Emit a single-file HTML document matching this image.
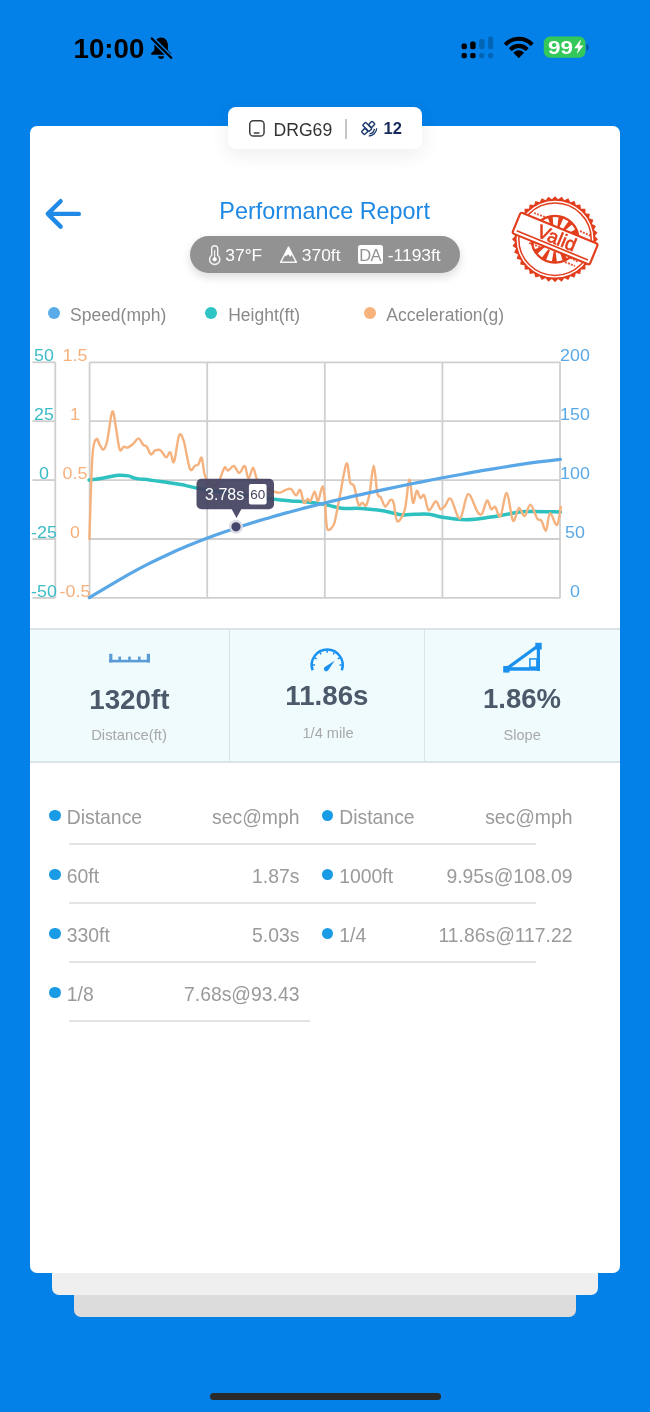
<!DOCTYPE html>
<html><head><meta charset="utf-8">
<style>
html,body{margin:0;padding:0;}
body{width:650px;height:1412px;position:relative;overflow:hidden;background:#0381e8;font-family:"Liberation Sans",sans-serif;}
.a{position:absolute;white-space:pre;line-height:1;transform:translateZ(0);}
svg{position:absolute;left:0;top:0;overflow:visible;transform:translateZ(0);}
</style></head><body>
<div style="position:absolute;left:74px;top:1200px;width:502px;height:117px;background:#dcdcdc;border-radius:7px;"></div>
<div style="position:absolute;left:52px;top:1200px;width:546px;height:95px;background:#efefef;border-radius:7px;"></div>
<div style="position:absolute;left:30px;top:126px;width:590px;height:1147px;background:#fff;border-radius:7px;"></div>
<div class="a" style="left:73.5px;top:34.79px;font-size:27.7px;font-weight:700;color:#000;">10:00</div>
<div style="position:absolute;left:228px;top:107px;width:194px;height:41.8px;background:#fff;border-radius:8px;box-shadow:0 6px 20px rgba(20,20,60,0.07);"></div>
<div class="a" style="left:273.5px;top:121.80px;font-size:17.6px;color:#333;">DRG69</div>
<div class="a" style="left:383.5px;top:120.45px;font-size:16.5px;font-weight:700;color:#16295a;">12</div>
<div style="position:absolute;left:345px;top:118.6px;width:1.5px;height:20.2px;background:#c4c4c4;"></div>
<div class="a" style="left:219.3px;top:200.25px;font-size:23.4px;color:#1e88e5;">Performance Report</div>
<div style="position:absolute;left:190px;top:236px;width:270px;height:37px;background:#929292;border-radius:18.5px;box-shadow:0 4px 10px rgba(0,0,0,0.14);"></div>
<div class="a" style="left:225.3px;top:246.73px;font-size:17.4px;color:#fff;">37°F</div>
<div class="a" style="left:301.8px;top:246.73px;font-size:17.4px;color:#fff;">370ft</div>
<div style="position:absolute;left:357.6px;top:245px;width:25.4px;height:19.2px;background:#fff;border-radius:2.5px;"></div>
<div class="a" style="left:359.2px;top:246.85px;font-size:16.5px;color:#929292;letter-spacing:-0.6px;">DA</div>
<div class="a" style="left:387.8px;top:246.73px;font-size:17.4px;color:#fff;">-1193ft</div>
<div style="position:absolute;left:47.5px;top:307px;width:12px;height:12px;background:#5aace8;border-radius:50%;"></div>
<div class="a" style="left:70px;top:306.92px;font-size:17.5px;color:#8a8a8a;">Speed(mph)</div>
<div style="position:absolute;left:205px;top:307px;width:12px;height:12px;background:#2ec4c4;border-radius:50%;"></div>
<div class="a" style="left:228.2px;top:306.92px;font-size:17.5px;color:#8a8a8a;">Height(ft)</div>
<div style="position:absolute;left:363.5px;top:307px;width:12px;height:12px;background:#f8b27c;border-radius:50%;"></div>
<div class="a" style="left:386.3px;top:306.92px;font-size:17.5px;color:#8a8a8a;">Acceleration(g)</div>
<svg width="650" height="650" viewBox="0 0 650 650">
<g stroke="#cfcfcf" stroke-width="1.8" fill="none"><line x1="89.6" y1="362.3" x2="89.6" y2="597.9"/><line x1="207.2" y1="362.3" x2="207.2" y2="597.9"/><line x1="324.8" y1="362.3" x2="324.8" y2="597.9"/><line x1="442.4" y1="362.3" x2="442.4" y2="597.9"/><line x1="560" y1="362.3" x2="560" y2="597.9"/><line x1="89.6" y1="362.3" x2="560" y2="362.3"/><line x1="89.6" y1="421.2" x2="560" y2="421.2"/><line x1="89.6" y1="480.1" x2="560" y2="480.1"/><line x1="89.6" y1="539.0" x2="560" y2="539.0"/><line x1="89.6" y1="597.9" x2="560" y2="597.9"/><line x1="55.3" y1="362.3" x2="55.3" y2="597.9"/><line x1="32.4" y1="362.3" x2="55.3" y2="362.3"/><line x1="32.4" y1="421.2" x2="55.3" y2="421.2"/><line x1="32.4" y1="480.1" x2="55.3" y2="480.1"/><line x1="32.4" y1="539.0" x2="55.3" y2="539.0"/><line x1="32.4" y1="597.9" x2="55.3" y2="597.9"/></g>
<path d="M89.1,480.0 C91.5,479.7 98.7,478.8 103.5,478.0 C108.3,477.2 114.0,475.7 118.2,475.3 C122.4,474.9 125.5,475.4 128.4,475.9 C131.3,476.4 132.3,477.7 135.8,478.4 C139.3,479.1 145.2,479.4 149.6,480.0 C154.0,480.6 157.3,481.1 162.5,481.8 C167.7,482.6 175.2,483.4 181.0,484.5 C186.8,485.6 188.6,486.6 197.6,488.2 C206.6,489.8 222.5,492.2 235.0,494.0 C247.5,495.8 263.2,497.8 272.5,499.0 C281.8,500.2 285.6,500.5 291.0,501.0 C296.4,501.5 299.3,501.2 305.0,501.8 C310.7,502.4 319.1,503.5 325.3,504.6 C331.5,505.7 336.8,507.7 342.0,508.3 C347.2,508.9 352.1,508.2 356.7,508.3 C361.3,508.4 365.0,508.8 369.6,509.2 C374.2,509.6 379.2,510.1 384.4,511.0 C389.6,511.9 395.9,514.2 401.0,514.8 C406.1,515.3 410.4,514.4 415.0,514.3 C419.6,514.2 424.2,513.8 428.8,514.3 C433.4,514.8 437.3,516.4 442.7,517.3 C448.1,518.2 455.8,519.3 461.2,519.6 C466.6,519.9 470.4,519.6 475.0,519.2 C479.6,518.8 483.4,518.1 488.8,517.3 C494.2,516.5 501.1,515.3 507.3,514.3 C513.5,513.3 516.9,511.9 525.8,511.5 C534.6,511.1 554.6,511.9 560.4,512.0" fill="none" stroke="#2fc0c0" stroke-width="3.5" stroke-linejoin="round" stroke-linecap="round"/>
<path d="M89.4,539.0 C89.9,525.2 91.2,472.7 92.4,456.0 C93.6,439.3 95.2,440.8 96.4,439.0 C97.6,437.2 98.6,443.2 99.8,445.0 C101.0,446.8 102.3,450.2 103.5,449.5 C104.7,448.8 105.7,447.3 107.2,441.0 C108.7,434.7 110.8,413.8 112.3,411.6 C113.8,409.4 114.8,421.7 116.0,428.0 C117.2,434.3 118.4,446.4 119.7,449.5 C121.0,452.6 122.5,447.0 123.8,446.7 C125.1,446.4 126.0,448.1 127.5,447.6 C129.0,447.2 131.2,445.5 133.0,444.0 C134.8,442.5 136.8,438.3 138.5,438.4 C140.2,438.5 141.8,443.4 143.2,444.8 C144.6,446.2 145.5,445.1 146.8,446.7 C148.1,448.3 149.6,453.8 151.0,454.4 C152.4,455.0 153.6,451.1 155.2,450.4 C156.8,449.7 158.9,449.2 160.7,450.4 C162.5,451.6 164.6,457.1 166.2,457.4 C167.8,457.7 169.0,451.5 170.3,452.2 C171.6,452.9 172.5,464.6 174.0,461.8 C175.5,459.0 177.5,439.0 179.1,435.6 C180.7,432.2 182.0,435.7 183.8,441.2 C185.6,446.7 188.1,464.7 189.9,468.8 C191.7,472.9 193.4,466.8 194.8,466.0 C196.2,465.2 197.3,465.6 198.5,464.2 C199.7,462.8 200.7,456.1 201.7,457.8 C202.7,459.5 203.5,470.4 204.6,474.4 C205.7,478.4 206.4,480.1 208.0,482.0 C209.6,483.9 212.2,486.2 214.0,486.0 C215.8,485.8 217.2,484.1 219.0,481.0 C220.8,477.9 223.0,469.4 224.5,467.7 C226.0,465.9 226.4,470.8 228.0,470.5 C229.6,470.2 231.9,465.6 233.8,466.0 C235.7,466.4 237.5,473.0 239.3,473.0 C241.1,473.0 243.3,465.0 244.8,466.0 C246.3,467.0 247.1,478.5 248.5,478.8 C249.9,479.1 251.6,467.7 253.0,467.7 C254.4,467.7 255.3,475.8 256.8,478.8 C258.3,481.9 260.1,484.3 262.0,486.0 C263.9,487.7 265.9,488.1 268.0,489.0 C270.1,489.9 272.4,491.1 274.4,491.7 C276.4,492.3 278.1,492.9 280.0,492.6 C281.9,492.3 283.7,490.6 285.5,490.0 C287.3,489.4 289.2,488.1 291.0,489.0 C292.8,489.9 294.5,495.2 296.0,495.4 C297.5,495.6 298.9,488.8 300.2,490.0 C301.5,491.2 302.8,501.3 304.0,502.8 C305.2,504.3 306.5,499.3 307.6,499.0 C308.7,498.7 309.3,502.2 310.5,501.0 C311.7,499.8 313.4,491.7 314.6,491.7 C315.9,491.7 316.7,501.9 318.0,501.0 C319.3,500.1 321.3,486.5 322.5,486.5 C323.7,486.5 324.2,494.0 325.0,501.0 C325.8,508.0 325.8,524.6 327.2,528.6 C328.6,532.6 332.1,527.5 333.6,525.0 C335.1,522.5 335.3,518.7 336.4,513.8 C337.5,508.9 338.3,503.8 340.0,495.4 C341.7,487.0 344.8,465.8 346.5,463.6 C348.2,461.5 348.9,478.8 350.2,482.5 C351.4,486.2 352.6,482.3 354.0,486.0 C355.4,489.7 357.1,501.8 358.5,504.6 C359.9,507.4 360.9,502.7 362.2,502.8 C363.4,502.9 364.8,507.1 366.0,505.5 C367.2,503.9 368.3,500.1 369.6,493.5 C370.9,486.9 372.4,465.8 373.7,465.8 C375.0,465.8 376.2,488.3 377.4,493.5 C378.6,498.7 379.4,495.0 380.7,497.2 C382.0,499.4 383.7,506.0 385.3,506.5 C386.9,507.0 388.9,500.6 390.3,500.0 C391.7,499.4 392.4,499.3 393.6,502.8 C394.8,506.3 395.5,520.0 397.3,521.2 C399.1,522.4 402.7,516.9 404.7,510.0 C406.7,503.1 407.9,480.9 409.3,479.7 C410.7,478.5 411.8,500.9 413.0,502.8 C414.2,504.7 415.5,491.6 416.7,490.8 C417.9,490.0 419.1,497.2 420.4,498.0 C421.6,498.8 422.8,493.3 424.2,495.4 C425.6,497.5 426.9,509.4 428.8,510.4 C430.7,511.4 433.9,501.4 435.8,501.2 C437.7,501.0 438.9,508.4 440.4,509.2 C441.9,510.0 443.3,507.5 445.0,505.8 C446.7,504.1 448.3,496.7 450.8,498.8 C453.3,500.9 457.1,519.3 460.0,518.5 C462.9,517.7 465.1,495.4 468.0,494.2 C470.9,493.0 475.0,508.2 477.3,511.5 C479.6,514.8 480.4,515.6 482.0,513.8 C483.6,512.0 485.5,501.3 487.0,500.5 C488.5,499.7 489.8,508.1 491.2,509.2 C492.6,510.3 493.8,505.8 495.3,507.0 C496.8,508.2 498.5,518.5 500.4,516.2 C502.3,513.9 504.7,492.2 506.8,493.0 C508.9,493.8 511.0,518.3 513.0,520.8 C515.0,523.3 516.9,508.8 518.8,508.0 C520.7,507.2 522.7,516.8 524.6,516.2 C526.5,515.6 528.3,504.2 530.4,504.6 C532.5,505.0 535.4,515.8 537.3,518.5 C539.1,521.2 540.0,518.8 541.5,520.8 C543.0,522.8 544.6,531.7 546.0,530.5 C547.4,529.3 548.2,514.3 550.0,513.4 C551.8,512.5 555.2,526.1 557.0,525.0 C558.8,523.9 560.2,510.0 560.8,507.0" fill="none" stroke="#f6b27e" stroke-width="2.4" stroke-linejoin="round" stroke-linecap="round"/>
<path d="M89.3,597.6 C92.5,595.7 102.1,590.0 108.6,586.2 C115.1,582.4 121.8,578.3 128.3,574.6 C134.9,570.9 141.4,567.4 147.9,564.1 C154.4,560.8 161.1,557.7 167.6,554.7 C174.1,551.7 180.7,548.8 187.2,546.1 C193.7,543.4 200.2,540.8 206.8,538.3 C213.4,535.8 219.9,533.5 226.5,531.2 C233.1,528.9 239.5,526.8 246.1,524.7 C252.7,522.6 259.2,520.6 265.8,518.7 C272.4,516.8 278.8,514.9 285.4,513.1 C291.9,511.3 298.6,509.6 305.1,507.9 C311.7,506.2 318.2,504.6 324.7,503.0 C331.2,501.4 337.8,499.8 344.3,498.3 C350.9,496.8 357.4,495.3 364.0,493.9 C370.6,492.4 377.1,491.0 383.6,489.6 C390.2,488.2 396.8,486.8 403.3,485.5 C409.9,484.2 416.3,482.9 422.9,481.6 C429.4,480.3 436.1,479.0 442.6,477.8 C449.2,476.6 455.7,475.4 462.2,474.2 C468.7,473.0 475.2,471.8 481.8,470.7 C488.4,469.6 494.9,468.6 501.5,467.5 C508.1,466.4 514.6,465.4 521.1,464.4 C527.6,463.4 534.2,462.5 540.8,461.7 C547.3,460.9 557.1,459.8 560.4,459.4" fill="none" stroke="#59a7e6" stroke-width="3.2" stroke-linejoin="round" stroke-linecap="round"/>
<rect x="196.5" y="478.8" width="77.5" height="30.4" rx="5" fill="#42415f" fill-opacity="0.92"/>
<path d="M231.6,509 L241.4,509 L236.5,518 Z" fill="#42415f" fill-opacity="0.92"/>
<rect x="248.9" y="484" width="17.7" height="20.6" rx="2" fill="#fff"/>
<circle cx="236" cy="526.8" r="7" fill="#dadbe4" fill-opacity="0.95"/>
<circle cx="236" cy="526.8" r="4.6" fill="#45446a"/>
</svg>
<div class="a" style="left:-6.200000000000003px;width:100px;text-align:center;top:348.22px;font-size:16.7px;color:#3cbcc6;transform:translateZ(0) scaleX(1.07);transform-origin:50% 0;">50</div>
<div class="a" style="left:25.200000000000003px;width:100px;text-align:center;top:348.22px;font-size:16.7px;color:#f5b07c;transform:translateZ(0) scaleX(1.07);transform-origin:50% 0;">1.5</div>
<div class="a" style="left:524.8px;width:100px;text-align:center;top:348.22px;font-size:16.7px;color:#5aa9e6;transform:translateZ(0) scaleX(1.07);transform-origin:50% 0;">200</div>
<div class="a" style="left:-6.200000000000003px;width:100px;text-align:center;top:407.12px;font-size:16.7px;color:#3cbcc6;transform:translateZ(0) scaleX(1.07);transform-origin:50% 0;">25</div>
<div class="a" style="left:25.200000000000003px;width:100px;text-align:center;top:407.12px;font-size:16.7px;color:#f5b07c;transform:translateZ(0) scaleX(1.07);transform-origin:50% 0;">1</div>
<div class="a" style="left:524.8px;width:100px;text-align:center;top:407.12px;font-size:16.7px;color:#5aa9e6;transform:translateZ(0) scaleX(1.07);transform-origin:50% 0;">150</div>
<div class="a" style="left:-6.200000000000003px;width:100px;text-align:center;top:466.02px;font-size:16.7px;color:#3cbcc6;transform:translateZ(0) scaleX(1.07);transform-origin:50% 0;">0</div>
<div class="a" style="left:25.200000000000003px;width:100px;text-align:center;top:466.02px;font-size:16.7px;color:#f5b07c;transform:translateZ(0) scaleX(1.07);transform-origin:50% 0;">0.5</div>
<div class="a" style="left:524.8px;width:100px;text-align:center;top:466.02px;font-size:16.7px;color:#5aa9e6;transform:translateZ(0) scaleX(1.07);transform-origin:50% 0;">100</div>
<div class="a" style="left:-6.200000000000003px;width:100px;text-align:center;top:524.92px;font-size:16.7px;color:#3cbcc6;transform:translateZ(0) scaleX(1.07);transform-origin:50% 0;">-25</div>
<div class="a" style="left:25.200000000000003px;width:100px;text-align:center;top:524.92px;font-size:16.7px;color:#f5b07c;transform:translateZ(0) scaleX(1.07);transform-origin:50% 0;">0</div>
<div class="a" style="left:524.8px;width:100px;text-align:center;top:524.92px;font-size:16.7px;color:#5aa9e6;transform:translateZ(0) scaleX(1.07);transform-origin:50% 0;">50</div>
<div class="a" style="left:-6.200000000000003px;width:100px;text-align:center;top:583.82px;font-size:16.7px;color:#3cbcc6;transform:translateZ(0) scaleX(1.07);transform-origin:50% 0;">-50</div>
<div class="a" style="left:25.200000000000003px;width:100px;text-align:center;top:583.82px;font-size:16.7px;color:#f5b07c;transform:translateZ(0) scaleX(1.07);transform-origin:50% 0;">-0.5</div>
<div class="a" style="left:524.8px;width:100px;text-align:center;top:583.82px;font-size:16.7px;color:#5aa9e6;transform:translateZ(0) scaleX(1.07);transform-origin:50% 0;">0</div>
<div class="a" style="left:205.1px;top:486.71px;font-size:16px;color:#fff;">3.78s</div>
<div class="a" style="left:250.2px;top:488.44px;font-size:13.5px;color:#45445f;">60</div>
<div style="position:absolute;left:30px;top:628px;width:590px;height:135px;background:#effbfd;border-top:2.5px solid #dbe4e8;border-bottom:2.5px solid #dbe4e8;box-sizing:border-box;"></div>
<div style="position:absolute;left:228.7px;top:630px;width:1.4px;height:131px;background:#dae4e8;"></div>
<div style="position:absolute;left:423.8px;top:630px;width:1.4px;height:131px;background:#dae4e8;"></div>
<div class="a" style="left:89.2px;top:686.07px;font-size:27.8px;font-weight:700;color:#4b596a;">1320ft</div>
<div class="a" style="left:285.3px;top:681.79px;font-size:27.7px;font-weight:700;color:#4b596a;">11.86s</div>
<div class="a" style="left:483px;top:684.51px;font-size:27.5px;font-weight:700;color:#4b596a;">1.86%</div>
<div class="a" style="left:91.2px;top:728.07px;font-size:14.8px;color:#a8a8a8;">Distance(ft)</div>
<div class="a" style="left:302.5px;top:725.79px;font-size:14.6px;color:#a8a8a8;">1/4 mile</div>
<div class="a" style="left:503.5px;top:727.89px;font-size:14.6px;color:#a8a8a8;">Slope</div>
<div style="position:absolute;left:49.05px;top:809.75px;width:11.5px;height:11.5px;background:#1a9be6;border-radius:50%;"></div>
<div class="a" style="left:66.8px;top:808.17px;font-size:19.35px;color:#9a9a9a;">Distance</div>
<div class="a" style="left:-0.6000000000000227px;width:300px;text-align:right;top:808.17px;font-size:19.35px;color:#9a9a9a;">sec@mph</div>
<div style="position:absolute;left:321.95px;top:809.75px;width:11.5px;height:11.5px;background:#1a9be6;border-radius:50%;"></div>
<div class="a" style="left:339.3px;top:808.17px;font-size:19.35px;color:#9a9a9a;">Distance</div>
<div class="a" style="left:272.5px;width:300px;text-align:right;top:808.17px;font-size:19.35px;color:#9a9a9a;">sec@mph</div>
<div style="position:absolute;left:69px;top:842.5px;width:467px;height:2px;background:#e3e3e3;"></div>
<div style="position:absolute;left:49.05px;top:868.75px;width:11.5px;height:11.5px;background:#1a9be6;border-radius:50%;"></div>
<div class="a" style="left:66.8px;top:867.17px;font-size:19.35px;color:#9a9a9a;">60ft</div>
<div class="a" style="left:-0.6000000000000227px;width:300px;text-align:right;top:867.17px;font-size:19.35px;color:#9a9a9a;">1.87s</div>
<div style="position:absolute;left:321.95px;top:868.75px;width:11.5px;height:11.5px;background:#1a9be6;border-radius:50%;"></div>
<div class="a" style="left:339.3px;top:867.17px;font-size:19.35px;color:#9a9a9a;">1000ft</div>
<div class="a" style="left:272.5px;width:300px;text-align:right;top:867.17px;font-size:19.35px;color:#9a9a9a;">9.95s@108.09</div>
<div style="position:absolute;left:69px;top:901.5px;width:467px;height:2px;background:#e3e3e3;"></div>
<div style="position:absolute;left:49.05px;top:927.75px;width:11.5px;height:11.5px;background:#1a9be6;border-radius:50%;"></div>
<div class="a" style="left:66.8px;top:926.17px;font-size:19.35px;color:#9a9a9a;">330ft</div>
<div class="a" style="left:-0.6000000000000227px;width:300px;text-align:right;top:926.17px;font-size:19.35px;color:#9a9a9a;">5.03s</div>
<div style="position:absolute;left:321.95px;top:927.75px;width:11.5px;height:11.5px;background:#1a9be6;border-radius:50%;"></div>
<div class="a" style="left:339.3px;top:926.17px;font-size:19.35px;color:#9a9a9a;">1/4</div>
<div class="a" style="left:272.5px;width:300px;text-align:right;top:926.17px;font-size:19.35px;color:#9a9a9a;">11.86s@117.22</div>
<div style="position:absolute;left:69px;top:960.5px;width:467px;height:2px;background:#e3e3e3;"></div>
<div style="position:absolute;left:49.05px;top:986.75px;width:11.5px;height:11.5px;background:#1a9be6;border-radius:50%;"></div>
<div class="a" style="left:66.8px;top:985.17px;font-size:19.35px;color:#9a9a9a;">1/8</div>
<div class="a" style="left:-0.6000000000000227px;width:300px;text-align:right;top:985.17px;font-size:19.35px;color:#9a9a9a;">7.68s@93.43</div>
<div style="position:absolute;left:69px;top:1019.5px;width:240.7px;height:2px;background:#e3e3e3;"></div>
<svg width="650" height="700" viewBox="0 0 650 700"><rect x="461.6" y="43.5" width="5.2" height="5.8" rx="1.8" fill="#000"/><rect x="461.6" y="52.9" width="5.2" height="5.3" rx="1.8" fill="#000"/><rect x="470.2" y="41.4" width="5.4" height="7.9" rx="1.8" fill="#000"/><rect x="470.2" y="52.9" width="5.4" height="5.3" rx="1.8" fill="#000"/><rect x="479.2" y="39" width="5.2" height="10.3" rx="1.8" fill="rgba(0,0,0,0.22)"/><rect x="479.2" y="52.9" width="5.2" height="5.3" rx="1.8" fill="rgba(0,0,0,0.22)"/><rect x="488.1" y="36.6" width="5.0" height="12.7" rx="1.8" fill="rgba(0,0,0,0.22)"/><rect x="488.1" y="52.9" width="5.0" height="5.3" rx="1.8" fill="rgba(0,0,0,0.22)"/><path d="M504.75,43.20 A19.8,19.8 0 0 1 532.75,43.20 L530.77,45.18 A17.0,17.0 0 0 0 506.73,45.18 Z M509.70,48.15 A12.8,12.8 0 0 1 527.80,48.15 L525.75,50.20 A9.9,9.9 0 0 0 511.75,50.20 Z M518.75,57.2 L514.37,52.82 A6.2,6.2 0 0 1 523.13,52.82 Z" fill="#000" stroke="#000" stroke-width="1.3" stroke-linejoin="round"/><rect x="543.8" y="36.6" width="41.7" height="21.2" rx="6.2" fill="#34c759"/><path d="M586.4,44 A2.2,3.3 0 0 1 586.4,50.6 Z" fill="rgba(0,0,0,0.35)"/><path d="M580.2,40.3 L574.2,48.3 L578.3,48.3 L576.9,54.1 L583.4,45.6 L579.3,45.6 L581,40.3 Z" fill="#fff"/><path d="M161.1,37.4 C157.3,37.4 154.4,40.6 154.4,45 L154.4,49.3 C154.4,50.8 152.9,52 151.4,52.9 C150.9,53.3 151,54.8 151.7,54.8 L170.6,54.8 C171.3,54.8 171.4,53.3 170.9,52.9 C169.4,52 167.9,50.8 167.9,49.3 L167.9,45 C167.9,40.6 165,37.4 161.1,37.4 Z M158,56.3 L164.2,56.3 C164,58 162.7,58.9 161.1,58.9 C159.5,58.9 158.2,58 158,56.3 Z" fill="#000"/><line x1="151.4" y1="38" x2="171.4" y2="58" stroke="#0381e8" stroke-width="5"/><line x1="151.8" y1="38.5" x2="171.2" y2="57.7" stroke="#000" stroke-width="2.3" stroke-linecap="round"/><rect x="249.75" y="120.75" width="14.3" height="15.3" rx="3.6" fill="none" stroke="#3e3e3e" stroke-width="1.5"/><line x1="254.3" y1="133" x2="259" y2="133" stroke="#3e3e3e" stroke-width="1.4" stroke-linecap="round"/><g transform="translate(369.2,128.6) scale(0.82) translate(-369.5,-129)"><g transform="translate(368.3,128.2) rotate(45)" fill="none" stroke="#1d3a70" stroke-width="1.75"><rect x="-7.2" y="-2.6" width="11" height="5.2" rx="1"/><rect x="-2.6" y="-9.2" width="5.2" height="6.2" rx="1.2"/><rect x="-2.6" y="3" width="5.2" height="6.2" rx="1.2"/></g><path d="M375.8,129.3 A7,7 0 0 1 369.8,135.5 M378.6,128.6 A9.6,9.6 0 0 1 369,138" fill="none" stroke="#1d3a70" stroke-width="1.6"/></g><path d="M60.6,201.2 L47.8,213.9 L60.6,226.6 M48,213.9 L78.8,213.9" fill="none" stroke="#2189e6" stroke-width="4.4" stroke-linecap="round" stroke-linejoin="round"/><path d="M211.7,255.3 V248.7 A3,3 0 0 1 217.7,248.7 V255.3 A5.1,5.1 0 1 1 211.7,255.3 Z" fill="none" stroke="#f4f4f4" stroke-width="1.4"/><line x1="214.65" y1="250.5" x2="214.65" y2="258" stroke="#fff" stroke-width="1.1" stroke-linecap="round"/><circle cx="214.65" cy="259.3" r="2.1" fill="#fff"/><path d="M288.5,247.2 L280.6,262.3 L296.4,262.3 Z" fill="none" stroke="#f4f4f4" stroke-width="1.5" stroke-linejoin="round"/><path d="M288.5,247.2 L284.5,254.8 L286,256.6 L287.2,255 L288.7,254.5 L290,257.1 L291.4,255.2 L292.6,254.8 Z" fill="#fff"/><g fill="#5b9bd5"><rect x="109.2" y="653.8" width="3.2" height="8.6"/><rect x="146.8" y="653.8" width="3.2" height="8.6"/><rect x="109.2" y="659.8" width="40.8" height="2.6"/><rect x="118.4" y="656.6" width="2.6" height="4"/><rect x="128.2" y="656.6" width="2.6" height="4"/><rect x="138" y="656.6" width="2.6" height="4"/></g><path d="M312.63,670.30 A15.5,15.5 0 1 1 341.77,670.30" fill="none" stroke="#1a90ef" stroke-width="2.5" stroke-linecap="butt"/><g stroke="#1a90ef" stroke-width="1.5"><line x1="312.70" y1="665.00" x2="315.00" y2="665.00"/><line x1="314.64" y1="657.75" x2="316.63" y2="658.90"/><line x1="319.95" y1="652.44" x2="321.10" y2="654.43"/><line x1="327.20" y1="650.50" x2="327.20" y2="652.80"/><line x1="334.45" y1="652.44" x2="333.30" y2="654.43"/><line x1="339.76" y1="657.75" x2="337.77" y2="658.90"/><line x1="341.70" y1="665.00" x2="339.40" y2="665.00"/></g><path d="M334.6,660.8 L328.4,670 A2.4,2.4 0 1 1 324.8,667 Z" fill="#1a90ef"/><g fill="#1a90ef"><rect x="503.2" y="666" width="6.3" height="6.6"/><rect x="535.3" y="642.8" width="6.4" height="6.7"/><rect x="536.8" y="649" width="3.2" height="22"/><rect x="509" y="667.2" width="31" height="3.5"/></g><line x1="507" y1="668.4" x2="538.5" y2="645.5" stroke="#1a90ef" stroke-width="3.2"/><rect x="529.9" y="658.9" width="7" height="8.3" fill="none" stroke="#1a90ef" stroke-width="1.5"/></svg>
<div class="a" style="left:548.2px;top:38.65px;font-size:18px;font-weight:700;color:#fff;transform:scaleX(1.25);transform-origin:0 0;">99</div>
<svg style="position:absolute;left:500px;top:185px" width="110" height="110" viewBox="500 185 110 110"><polygon points="598.00,239.20 594.88,242.34 597.47,245.93 593.89,248.54 595.90,252.49 591.96,254.51 593.31,258.72 589.11,260.10 589.79,264.47 585.42,265.18 585.41,269.61 580.98,269.62 580.27,273.99 575.90,273.31 574.52,277.51 570.31,276.16 568.29,280.10 564.34,278.09 561.73,281.67 558.14,279.08 555.00,282.20 551.86,279.08 548.27,281.67 545.66,278.09 541.71,280.10 539.69,276.16 535.48,277.51 534.10,273.31 529.73,273.99 529.02,269.62 524.59,269.61 524.58,265.18 520.21,264.47 520.89,260.10 516.69,258.72 518.04,254.51 514.10,252.49 516.11,248.54 512.53,245.93 515.12,242.34 512.00,239.20 515.12,236.06 512.53,232.47 516.11,229.86 514.10,225.91 518.04,223.89 516.69,219.68 520.89,218.30 520.21,213.93 524.58,213.22 524.59,208.79 529.02,208.78 529.73,204.41 534.10,205.09 535.48,200.89 539.69,202.24 541.71,198.30 545.66,200.31 548.27,196.73 551.86,199.32 555.00,196.20 558.14,199.32 561.73,196.73 564.34,200.31 568.29,198.30 570.31,202.24 574.52,200.89 575.90,205.09 580.27,204.41 580.98,208.78 585.41,208.79 585.42,213.22 589.79,213.93 589.11,218.30 593.31,219.68 591.96,223.89 595.90,225.91 593.89,229.86 597.47,232.47 594.88,236.06" fill="#e23d1c"/><circle cx="555" cy="239.2" r="38.4" fill="#fff"/><circle cx="555" cy="239.2" r="36.2" fill="none" stroke="#e23d1c" stroke-width="1.5"/><circle cx="555" cy="239.2" r="23.4" fill="none" stroke="#e23d1c" stroke-width="2.3"/><g fill="#e23d1c"><polygon points="566.72,241.98 577.85,245.28 578.62,240.14 567.01,240.00"/><polygon points="564.08,247.11 572.40,255.20 575.48,251.01 565.26,245.50"/><polygon points="559.37,250.42 562.97,261.46 567.65,259.18 561.16,249.54"/><polygon points="553.65,251.17 551.72,262.61 556.91,262.77 555.65,251.22"/><polygon points="548.24,249.17 541.21,258.41 545.74,260.96 549.99,250.15"/><polygon points="544.39,244.89 533.86,249.80 536.69,254.16 545.47,246.57"/><polygon points="542.96,239.30 531.36,238.76 531.84,243.94 543.14,241.29"/><polygon points="544.29,233.70 534.27,227.83 532.29,232.63 543.53,235.54"/><polygon points="548.08,229.35 541.93,219.50 537.94,222.83 546.54,230.63"/><polygon points="553.45,227.26 552.59,215.68 547.50,216.78 551.49,227.68"/><polygon points="559.17,227.90 563.79,217.25 558.78,215.86 557.25,227.37"/><polygon points="563.94,231.14 572.98,223.85 569.19,220.29 562.49,229.77"/><polygon points="566.67,236.22 578.06,233.97 576.36,229.05 566.01,234.33"/></g><line x1="526" y1="238" x2="537" y2="243" stroke="#e23d1c" stroke-width="2.2" stroke-dasharray="2 1.2" opacity="0.85"/><line x1="529" y1="243" x2="540" y2="247" stroke="#e23d1c" stroke-width="1.8" stroke-dasharray="2 1.2" opacity="0.85"/><line x1="565" y1="262" x2="575" y2="266" stroke="#e23d1c" stroke-width="2.0" stroke-dasharray="2 1.2" opacity="0.85"/><line x1="580" y1="231" x2="591" y2="236" stroke="#e23d1c" stroke-width="2.0" stroke-dasharray="2 1.2" opacity="0.85"/><line x1="534" y1="213" x2="545" y2="217" stroke="#e23d1c" stroke-width="1.8" stroke-dasharray="2 1.2" opacity="0.85"/><line x1="570" y1="258" x2="578" y2="262" stroke="#e23d1c" stroke-width="1.5" stroke-dasharray="2 1.2" opacity="0.85"/><g transform="translate(555,238.79999999999998) rotate(22.3)"><rect x="-41.8" y="-11.6" width="83.6" height="22.6" rx="2" fill="#fff" stroke="#e23d1c" stroke-width="2.1"/><line x1="-38.5" y1="7" x2="38.5" y2="7" stroke="#e23d1c" stroke-width="1.6"/><text x="1.5" y="5" text-anchor="middle" font-family="Liberation Sans" font-size="18.8" fill="#e23d1c" stroke="#e23d1c" stroke-width="0.6">Valid</text></g></svg>
<div style="position:absolute;left:209.5px;top:1393px;width:231px;height:6.5px;background:#2a2a2a;border-radius:4px;"></div>
</body></html>
